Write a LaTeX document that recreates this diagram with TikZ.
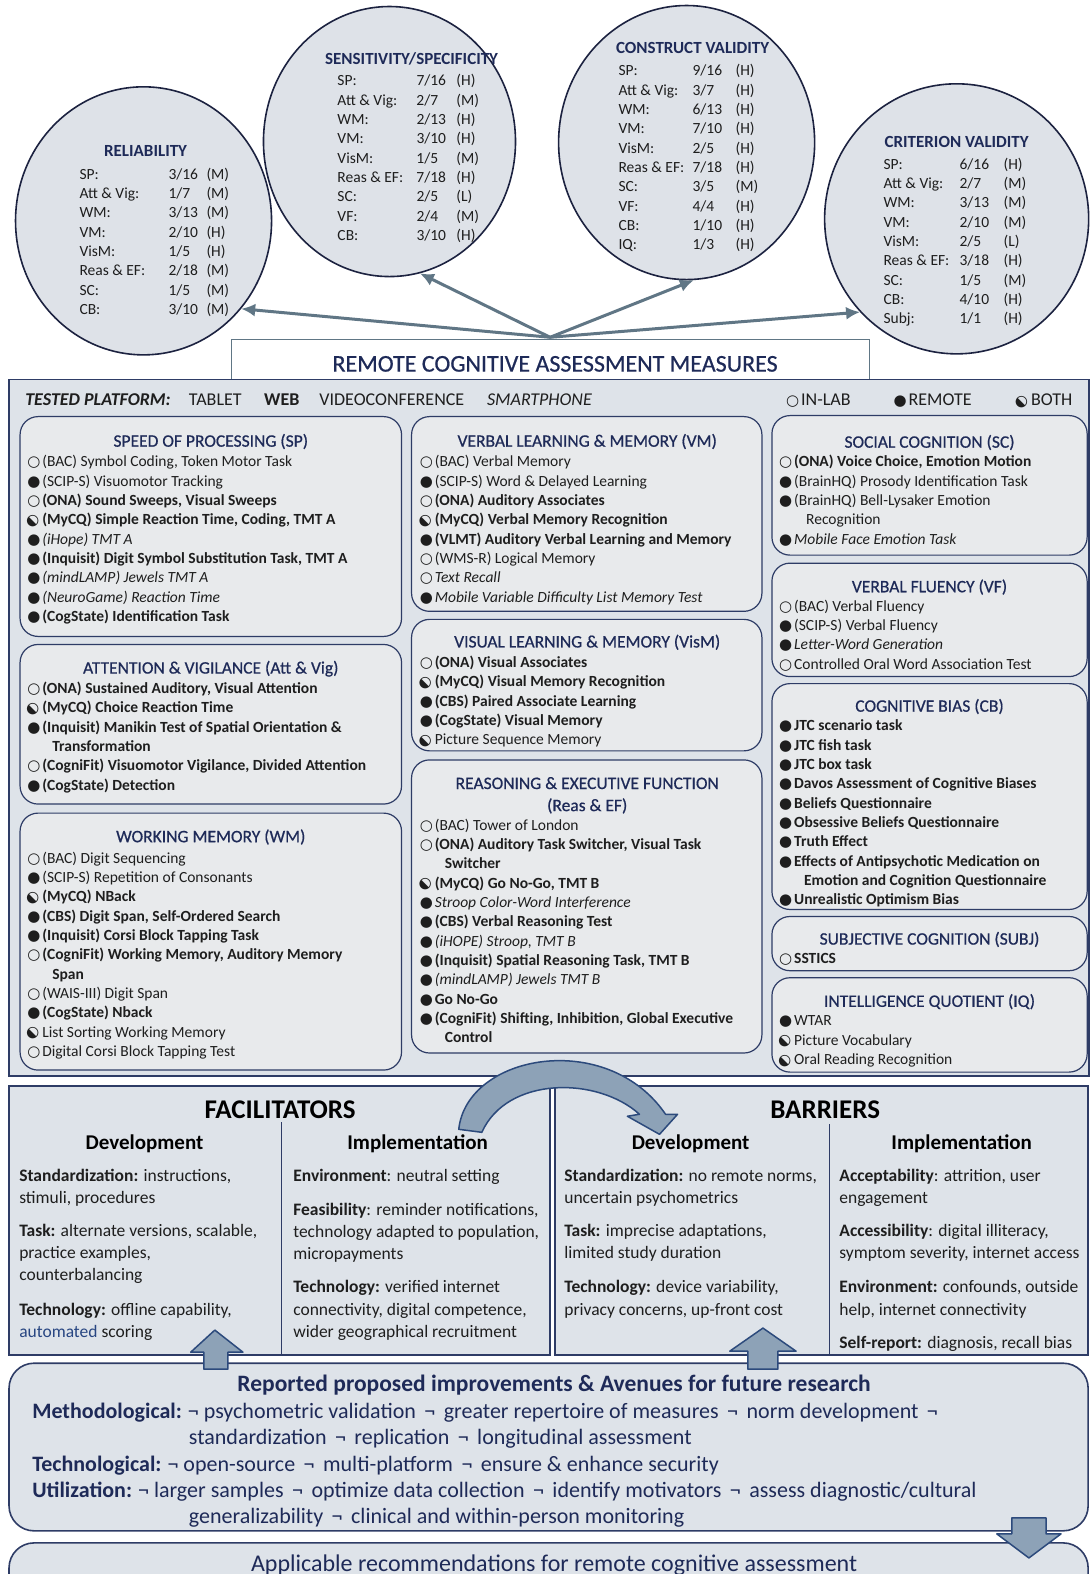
\documentclass[tikz,border=0pt]{standalone}
\usepackage{fontspec}
\setmainfont{Carlito}
\newfontfamily\medfont[FakeBold=0.6]{Carlito}
\newfontfamily\glyphfont{DejaVu Sans}
\usepackage{graphicx}
\usetikzlibrary{shapes.geometric,arrows.meta}

\definecolor{navy}{RGB}{30,42,88}
\definecolor{frame}{RGB}{46,60,102}
\definecolor{panelfill}{RGB}{222,227,233}
\definecolor{boxfill}{RGB}{232,234,236}
\definecolor{discfill}{RGB}{222,226,232}
\definecolor{discline}{RGB}{28,34,64}
\definecolor{slate}{RGB}{96,118,133}
\definecolor{steel}{RGB}{141,162,183}
\definecolor{steelline}{RGB}{44,74,124}
\definecolor{ink}{RGB}{30,30,30}
\definecolor{linkblue}{RGB}{40,70,130}

% status bullets: in-lab, remote, both
\newcommand\bulletsize{\fontsize{15}{15}\selectfont}
\newcommand\inlab{\makebox[15pt][l]{\glyphfont\bulletsize\char"25CB}}
\newcommand\remote{\makebox[15pt][l]{\glyphfont\bulletsize\char"25CF}}
\newcommand\both{\makebox[15pt][l]{\makebox[11pt][c]{\smash{\rotatebox[origin=c]{45}{\glyphfont\bulletsize\char"25D0}}}}}
% separator in the improvements list
\newcommand\nb{\hspace{3.5pt} ¬ \hspace{3.5pt}}

\tikzset{
  disc/.style={ellipse, draw=discline, fill=discfill, line width=1.6pt, inner sep=0},
  disctitle/.style={anchor=base, inner sep=0, text=navy, font=\bfseries\fontsize{17}{20}\selectfont},
  measarrow/.style={draw=slate, line width=3pt, -{Latex[length=14pt,width=13pt]}},
  grp/.style={draw=frame, fill=boxfill, line width=1.2pt, rounded corners=18pt},
  grptitle/.style={anchor=base, inner sep=0, text=navy, font=\medfont\fontsize{17.5}{20}\selectfont},
  itm/.style={anchor=base west, inner sep=0, text=ink, font=\fontsize{15.5}{19.3}\selectfont},
  tbl/.style={anchor=north west, inner sep=0, text=ink, font=\fontsize{15.5}{19.3}\selectfont},
  platform/.style={anchor=base west, inner sep=0, text=ink, font=\fontsize{18}{20}\selectfont},
  lowbox/.style={draw=frame, fill=panelfill, line width=1.6pt},
  bigword/.style={anchor=base, inner sep=0, font=\bfseries\fontsize{27}{30}\selectfont},
  subhead/.style={anchor=base, inner sep=0, font=\bfseries\fontsize{21}{24}\selectfont},
  body/.style={anchor=base west, inner sep=0, text=ink, font=\fontsize{17.5}{22}\selectfont},
  plan/.style={anchor=base west, inner sep=0, text=navy, font=\fontsize{22}{26}\selectfont},
  blockarrow/.style={draw=steelline, fill=steel, line width=1.5pt, line join=round},
}

\begin{document}
\begin{tikzpicture}[x=1.0037pt, y=-1.0037pt]
  \useasboundingbox (0,0) rectangle (1085,1568);

  % psychometric property discs
  \node[disc, minimum width=256pt, minimum height=268pt] (rel)  at (143,220) {};
  \node[disc, minimum width=252pt, minimum height=270pt] (sens) at (388,141) {};
  \node[disc, minimum width=256pt, minimum height=274pt] (cons) at (684,142) {};
  \node[disc, minimum width=264pt, minimum height=270pt] (crit) at (953,218) {};

  \node[disctitle] (rel-head)  at (145,156) {RELIABILITY};
  \node[disctitle] (sens-head) at (410,64)  {SENSITIVITY/SPECIFICITY};
  \node[disctitle] (cons-head) at (690,53)  {CONSTRUCT VALIDITY};
  \node[disctitle] (crit-head) at (953,147) {CRITERION VALIDITY};

  \node[tbl] (rel-txt) at (79,165) {\begin{tabular}{@{}p{89pt}@{}p{38pt}@{}l@{}}
    SP: & 3/16 & (M)\\ Att \& Vig: & 1/7 & (M)\\ WM: & 3/13 & (M)\\ VM: & 2/10 & (H)\\
    VisM: & 1/5 & (H)\\ Reas \& EF: & 2/18 & (M)\\ SC: & 1/5 & (M)\\ CB: & 3/10 & (M)
  \end{tabular}};
  \node[tbl] (sens-txt) at (336,72) {\begin{tabular}{@{}p{79pt}@{}p{40pt}@{}l@{}}
    SP: & 7/16 & (H)\\ Att \& Vig: & 2/7 & (M)\\ WM: & 2/13 & (H)\\ VM: & 3/10 & (H)\\
    VisM: & 1/5 & (M)\\ Reas \& EF: & 7/18 & (H)\\ SC: & 2/5 & (L)\\ VF: & 2/4 & (M)\\
    CB: & 3/10 & (H)
  \end{tabular}};
  \node[tbl] (cons-txt) at (616,62) {\begin{tabular}{@{}p{74pt}@{}p{43pt}@{}l@{}}
    SP: & 9/16 & (H)\\ Att \& Vig: & 3/7 & (H)\\ WM: & 6/13 & (H)\\ VM: & 7/10 & (H)\\
    VisM: & 2/5 & (H)\\ Reas \& EF: & 7/18 & (H)\\ SC: & 3/5 & (M)\\ VF: & 4/4 & (H)\\
    CB: & 1/10 & (H)\\ IQ: & 1/3 & (H)
  \end{tabular}};
  \node[tbl] (crit-txt) at (880,155) {\begin{tabular}{@{}p{76pt}@{}p{44pt}@{}l@{}}
    SP: & 6/16 & (H)\\ Att \& Vig: & 2/7 & (M)\\ WM: & 3/13 & (M)\\ VM: & 2/10 & (M)\\
    VisM: & 2/5 & (L)\\ Reas \& EF: & 3/18 & (H)\\ SC: & 1/5 & (M)\\ CB: & 4/10 & (H)\\
    Subj: & 1/1 & (H)
  \end{tabular}};

  % arrows out of the measures header
  \coordinate (hub) at (548,336);
  \draw[measarrow] (hub) -- (rel.-42);
  \draw[measarrow] (hub) -- (sens.-77);
  \draw[measarrow] (hub) -- (cons.-87);
  \draw[measarrow] (hub) -- (crit.-136);

  \draw[slate, line width=1.2pt] (231,378) -- (231,338) -- (866,338) -- (866,378);
  \node[text=navy, font=\medfont\fontsize{24}{26}\selectfont] (measures) at (553,362.5)
    {REMOTE COGNITIVE ASSESSMENT MEASURES};

  % main panel
  \draw[draw=frame, fill=panelfill, line width=1.4pt] (9,378) rectangle (1085,1072);

  \node[platform] (tp)    at (25,404)  {\textbf{\textit{TESTED PLATFORM:}}};
  \node[platform] (tab)   at (188,404) {TABLET};
  \node[platform] (web)   at (263,404) {\textbf{WEB}};
  \node[platform] (video) at (318,404) {VIDEOCONFERENCE};
  \node[platform] (phone) at (485,404) {\textit{SMARTPHONE}};
  \node[platform] (key-lab)  at (783,404)  {\inlab IN-LAB};
  \node[platform] (key-rem)  at (890,404)  {\remote REMOTE};
  \node[platform] (key-both) at (1012,404) {\both BOTH};

  % domain boxes, left column
  \draw[grp] (20,415) rectangle (400,634);
  \node[grptitle] (sp) at (210,445) {SPEED OF PROCESSING (SP)};
  \foreach \txt [count=\row from 0] in {
    {\inlab(BAC) Symbol Coding, Token Motor Task},
    {\remote(SCIP-S) Visuomotor Tracking},
    {\inlab\textbf{(ONA) Sound Sweeps, Visual Sweeps}},
    {\both\textbf{(MyCQ) Simple Reaction Time, Coding, TMT A}},
    {\remote\textit{(iHope) TMT A}},
    {\remote\textbf{(Inquisit) Digit Symbol Substitution Task, TMT A}},
    {\remote\textit{(mindLAMP) Jewels TMT A}},
    {\remote\textit{(NeuroGame) Reaction Time}},
    {\remote\textbf{(CogState) Identification Task}}}
    \node[itm] (sp-\row) at (27,{465+19.25*\row}) {\txt};

  \draw[grp] (20,642) rectangle (400,801);
  \node[grptitle] (att) at (210,671) {ATTENTION \& VIGILANCE (Att \& Vig)};
  \foreach \txt [count=\row from 0] in {
    {\inlab\textbf{(ONA) Sustained Auditory, Visual Attention}},
    {\both\textbf{(MyCQ) Choice Reaction Time}},
    {\remote\textbf{(Inquisit) Manikin Test of Spatial Orientation \&}},
    {\hspace*{25pt}\textbf{Transformation}},
    {\inlab\textbf{(CogniFit) Visuomotor Vigilance, Divided Attention}},
    {\remote\textbf{(CogState) Detection}}}
    \node[itm] (att-\row) at (27,{691+19.25*\row}) {\txt};

  \draw[grp] (20,810) rectangle (400,1066);
  \node[grptitle] (wm) at (210,839) {WORKING MEMORY (WM)};
  \foreach \txt [count=\row from 0] in {
    {\inlab(BAC) Digit Sequencing},
    {\remote(SCIP-S) Repetition of Consonants},
    {\both\textbf{(MyCQ) NBack}},
    {\remote\textbf{(CBS) Digit Span, Self-Ordered Search}},
    {\remote\textbf{(Inquisit) Corsi Block Tapping Task}},
    {\inlab\textbf{(CogniFit) Working Memory, Auditory Memory}},
    {\hspace*{25pt}\textbf{Span}},
    {\inlab(WAIS-III) Digit Span},
    {\remote\textbf{(CogState) Nback}},
    {\both List Sorting Working Memory},
    {\inlab Digital Corsi Block Tapping Test}}
    \node[itm] (wm-\row) at (27,{860+19.25*\row}) {\txt};

  % middle column
  \draw[grp] (410,415) rectangle (759,609);
  \node[grptitle] (vm) at (585,445) {VERBAL LEARNING \& MEMORY (VM)};
  \foreach \txt [count=\row from 0] in {
    {\inlab(BAC) Verbal Memory},
    {\remote(SCIP-S) Word \& Delayed Learning},
    {\inlab\textbf{(ONA) Auditory Associates}},
    {\both\textbf{(MyCQ) Verbal Memory Recognition}},
    {\remote\textbf{(VLMT) Auditory Verbal Learning and Memory}},
    {\inlab(WMS-R) Logical Memory},
    {\inlab\textit{Text Recall}},
    {\remote\textit{Mobile Variable Difficulty List Memory Test}}}
    \node[itm] (vm-\row) at (418,{465+19.25*\row}) {\txt};

  \draw[grp] (410,617) rectangle (759,748);
  \node[grptitle] (vism) at (585,645) {VISUAL LEARNING \& MEMORY (VisM)};
  \foreach \txt [count=\row from 0] in {
    {\inlab\textbf{(ONA) Visual Associates}},
    {\both\textbf{(MyCQ) Visual Memory Recognition}},
    {\remote\textbf{(CBS) Paired Associate Learning}},
    {\remote\textbf{(CogState) Visual Memory}},
    {\both Picture Sequence Memory}}
    \node[itm] (vism-\row) at (418,{665+19.25*\row}) {\txt};

  \draw[grp] (410,757) rectangle (759,1049);
  \node[grptitle] (ref) at (585,786) {REASONING \& EXECUTIVE FUNCTION};
  \node[grptitle] (ref-b) at (585,808) {(Reas \& EF)};
  \foreach \txt [count=\row from 0] in {
    {\inlab(BAC) Tower of London},
    {\inlab\textbf{(ONA) Auditory Task Switcher, Visual Task}},
    {\hspace*{25pt}\textbf{Switcher}},
    {\both\textbf{(MyCQ) Go No-Go, TMT B}},
    {\remote\textit{Stroop Color-Word Interference}},
    {\remote\textbf{(CBS) Verbal Reasoning Test}},
    {\remote\textit{(iHOPE) Stroop, TMT B}},
    {\remote\textbf{(Inquisit) Spatial Reasoning Task, TMT B}},
    {\remote\textit{(mindLAMP) Jewels TMT B}},
    {\remote\textbf{Go No-Go}},
    {\remote\textbf{(CogniFit) Shifting, Inhibition, Global Executive}},
    {\hspace*{25pt}\textbf{Control}}}
    \node[itm] (ref-\row) at (418,{827+19.25*\row}) {\txt};

  % right column
  \draw[grp] (769,414) rectangle (1083,553);
  \node[grptitle] (sc) at (926,446) {SOCIAL COGNITION (SC)};
  \foreach \txt [count=\row from 0] in {
    {\inlab\textbf{(ONA) Voice Choice, Emotion Motion}},
    {\remote(BrainHQ) Prosody Identification Task},
    {\remote(BrainHQ) Bell-Lysaker Emotion},
    {\hspace*{27pt}Recognition},
    {\remote\textit{Mobile Face Emotion Task}}}
    \node[itm] (sc-\row) at (776,{465+19.25*\row}) {\txt};

  \draw[grp] (769,561) rectangle (1083,674);
  \node[grptitle] (vf) at (926,590) {VERBAL FLUENCY (VF)};
  \foreach \txt [count=\row from 0] in {
    {\inlab(BAC) Verbal Fluency},
    {\remote(SCIP-S) Verbal Fluency},
    {\remote\textit{Letter-Word Generation}},
    {\inlab Controlled Oral Word Association Test}}
    \node[itm] (vf-\row) at (776,{609+19.25*\row}) {\txt};

  \draw[grp] (769,681) rectangle (1083,906);
  \node[grptitle] (cb) at (926,709) {COGNITIVE BIAS (CB)};
  \foreach \txt [count=\row from 0] in {
    {\remote\textbf{JTC scenario task}},
    {\remote\textbf{JTC fish task}},
    {\remote\textbf{JTC box task}},
    {\remote\textbf{Davos Assessment of Cognitive Biases}},
    {\remote\textbf{Beliefs Questionnaire}},
    {\remote\textbf{Obsessive Beliefs Questionnaire}},
    {\remote\textbf{Truth Effect}},
    {\remote\textbf{Effects of Antipsychotic Medication on}},
    {\hspace*{25pt}\textbf{Emotion and Cognition Questionnaire}},
    {\remote\textbf{Unrealistic Optimism Bias}}}
    \node[itm] (cb-\row) at (776,{728+19.25*\row}) {\txt};

  \draw[grp] (769,913) rectangle (1083,967);
  \node[grptitle] (subj) at (926,941) {SUBJECTIVE COGNITION (SUBJ)};
  \node[itm] (subj-0) at (776,960) {\inlab\textbf{SSTICS}};

  \draw[grp] (769,974) rectangle (1083,1068);
  \node[grptitle] (iq) at (926,1003) {INTELLIGENCE QUOTIENT (IQ)};
  \foreach \txt [count=\row from 0] in {
    {\remote WTAR},
    {\both Picture Vocabulary},
    {\both Oral Reading Recognition}}
    \node[itm] (iq-\row) at (776,{1022+19.25*\row}) {\txt};

  % facilitators and barriers
  \draw[lowbox] (9,1082) rectangle (548,1350);
  \draw[lowbox] (553,1082) rectangle (1084,1350);
  \draw[frame, line width=1pt] (280,1118) -- (280,1350);
  \draw[frame, line width=1pt] (826,1120) -- (826,1350);

  \node[bigword] (facil) at (279,1114) {FACILITATORS};
  \node[bigword] (barr)  at (822,1114) {BARRIERS};
  \node[subhead] (facil-dev) at (144,1145) {Development};
  \node[subhead] (facil-imp) at (416,1145) {Implementation};
  \node[subhead] (barr-dev)  at (688,1145) {Development};
  \node[subhead] (barr-imp)  at (958,1145) {Implementation};

  \foreach \yy/\txt in {
    1177/{\textbf{Standardization:} instructions,},
    1199/{stimuli, procedures},
    1232/{\textbf{Task:} alternate versions, scalable,},
    1254/{practice examples,},
    1276/{counterbalancing},
    1310/{\textbf{Technology:} offline capability,},
    1332/{\textcolor{linkblue}{automated} scoring}}
    \node[body] (fd-\yy) at (19,\yy) {\txt};
  \foreach \yy/\txt in {
    1177/{\textbf{Environment}: neutral setting},
    1211/{\textbf{Feasibility}: reminder notifications,},
    1233/{technology adapted to population,},
    1255/{micropayments},
    1288/{\textbf{Technology:} verified internet},
    1310/{connectivity, digital competence,},
    1332/{wider geographical recruitment}}
    \node[body] (fi-\yy) at (292,\yy) {\txt};
  \foreach \yy/\txt in {
    1177/{\textbf{Standardization:} no remote norms,},
    1199/{uncertain psychometrics},
    1232/{\textbf{Task:} imprecise adaptations,},
    1254/{limited study duration},
    1288/{\textbf{Technology:} device variability,},
    1310/{privacy concerns, up-front cost}}
    \node[body] (bd-\yy) at (562,\yy) {\txt};
  \foreach \yy/\txt in {
    1177/{\textbf{Acceptability}: attrition, user},
    1199/{engagement},
    1232/{\textbf{Accessibility}: digital illiteracy,},
    1254/{symptom severity, internet access},
    1288/{\textbf{Environment:} confounds, outside},
    1310/{help, internet connectivity},
    1343/{\textbf{Self-report:} diagnosis, recall bias}}
    \node[body] (bi-\yy) at (836,\yy) {\txt};

  % curved arrow from facilitators to barriers
  \draw[blockarrow] (457,1125) .. controls (465,1050) and (605,1025) .. (663,1110)
    -- (675,1110) -- (657,1130) -- (625,1112) -- (637,1110)
    .. controls (595,1072) and (505,1072) .. (480,1128) -- cycle;

  % improvements and recommendations
  \draw[lowbox, rounded corners=25pt] (9,1358) rectangle (1084,1525);
  \draw[lowbox, rounded corners=25pt] (9,1537) rectangle (1084,1620);

  \draw[blockarrow] (203,1364) -- (203,1347) -- (190,1347) -- (214,1325)
    -- (242,1347) -- (227,1347) -- (227,1364) -- cycle;
  \draw[blockarrow] (745,1364) -- (745,1346) -- (727,1346) -- (760,1323)
    -- (793,1346) -- (775,1346) -- (775,1364) -- cycle;
  \draw[blockarrow] (1008,1512) -- (1042,1512) -- (1042,1528) -- (1057,1528)
    -- (1025,1552) -- (993,1528) -- (1008,1528) -- cycle;

  \node[anchor=base, inner sep=0, text=navy, font=\bfseries\fontsize{23.5}{26}\selectfont]
    (future) at (552,1386) {Reported proposed improvements \& Avenues for future research};
  \node[plan] (meth) at (32,1413)
    {\textbf{Methodological:}\hspace{6pt}¬ psychometric validation\nb greater repertoire of measures\nb norm development\nb};
  \node[plan] (meth-b) at (188,1439) {standardization\nb replication\nb longitudinal assessment};
  \node[plan] (tech) at (32,1466)
    {\textbf{Technological:}\hspace{6pt}¬ open-source\nb multi-platform\nb ensure \& enhance security};
  \node[plan] (util) at (32,1492)
    {\textbf{Utilization:}\hspace{6pt}¬ larger samples\nb optimize data collection\nb identify motivators\nb assess diagnostic/cultural};
  \node[plan] (util-b) at (188,1518) {generalizability\nb clinical and within-person monitoring};

  \node[anchor=base, inner sep=0, text=navy, font=\fontsize{24}{26}\selectfont]
    (advice) at (552,1565) {Applicable recommendations for remote cognitive assessment};
\end{tikzpicture}
\end{document}
